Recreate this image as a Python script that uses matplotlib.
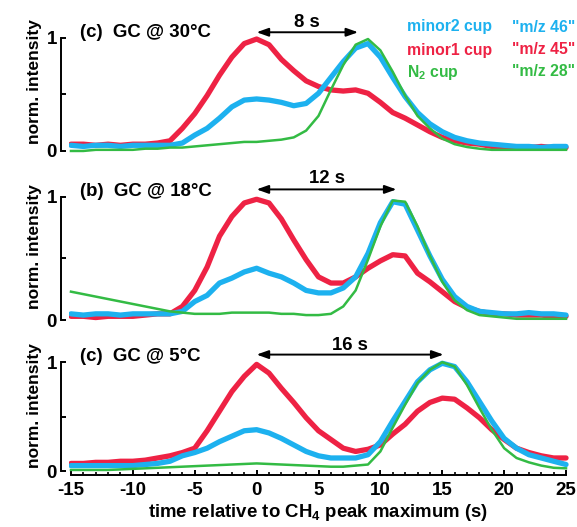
import numpy as np
import matplotlib
matplotlib.use("Agg")
import matplotlib.pyplot as plt
from matplotlib.ticker import MultipleLocator

plt.rcParams["font.family"] = ["Liberation Sans", "DejaVu Sans"]
plt.rcParams["font.weight"] = "bold"
plt.rcParams["axes.unicode_minus"] = False
plt.rcParams["mathtext.fontset"] = "custom"
plt.rcParams["mathtext.rm"] = "Liberation Sans:bold"
plt.rcParams["mathtext.bf"] = "Liberation Sans:bold"
plt.rcParams["mathtext.default"] = "bf"

# time axis (s), 1 s steps from -15 to 25
time = np.arange(-15, 26)

# ---- GC @ 30 C ----
red_30 = [0.06, 0.06, 0.05, 0.06, 0.05, 0.06, 0.06, 0.07, 0.09, 0.20, 0.33, 0.49, 0.67, 0.83,
          0.95, 0.99, 0.94, 0.81, 0.71, 0.62, 0.57, 0.54, 0.53, 0.54, 0.51, 0.43, 0.34, 0.29,
          0.23, 0.17, 0.12, 0.09, 0.07, 0.06, 0.04, 0.03, 0.03, 0.03, 0.04, 0.03, 0.03]
blue_30 = [0.05, 0.04, 0.05, 0.05, 0.04, 0.05, 0.05, 0.05, 0.05, 0.07, 0.14, 0.20, 0.29, 0.39,
           0.45, 0.46, 0.45, 0.43, 0.40, 0.42, 0.51, 0.65, 0.79, 0.91, 0.95, 0.83, 0.65, 0.48,
           0.34, 0.24, 0.17, 0.12, 0.09, 0.07, 0.06, 0.05, 0.04, 0.04, 0.03, 0.04, 0.04]
green_30 = [0.00, 0.00, 0.01, 0.01, 0.01, 0.01, 0.02, 0.02, 0.03, 0.03, 0.04, 0.05, 0.06, 0.07,
            0.08, 0.08, 0.09, 0.10, 0.12, 0.18, 0.31, 0.54, 0.76, 0.94, 0.99, 0.89, 0.70, 0.49,
            0.31, 0.20, 0.11, 0.06, 0.035, 0.02, 0.01, 0.01, 0.01, 0.01, 0.01, 0.01, 0.01]

# ---- GC @ 18 C ----
red_18 = [0.03, 0.03, 0.02, 0.03, 0.03, 0.03, 0.04, 0.05, 0.05, 0.11, 0.24, 0.43, 0.68, 0.84,
          0.95, 0.98, 0.95, 0.82, 0.65, 0.49, 0.35, 0.30, 0.30, 0.35, 0.42, 0.48, 0.53, 0.52,
          0.38, 0.31, 0.23, 0.15, 0.10, 0.07, 0.05, 0.05, 0.04, 0.04, 0.04, 0.03, 0.03]
blue_18 = [0.05, 0.04, 0.05, 0.05, 0.04, 0.05, 0.05, 0.05, 0.05, 0.07, 0.15, 0.20, 0.30, 0.34,
           0.39, 0.42, 0.38, 0.35, 0.30, 0.24, 0.22, 0.22, 0.26, 0.35, 0.54, 0.79, 0.96, 0.94,
           0.73, 0.52, 0.33, 0.19, 0.11, 0.07, 0.06, 0.05, 0.05, 0.06, 0.05, 0.05, 0.04]
green_18 = [0.23, 0.21, 0.19, 0.17, 0.15, 0.13, 0.11, 0.09, 0.07, 0.06, 0.05, 0.05, 0.05, 0.06,
            0.06, 0.06, 0.06, 0.05, 0.05, 0.04, 0.04, 0.05, 0.11, 0.24, 0.49, 0.76, 0.97, 0.96,
            0.76, 0.52, 0.31, 0.16, 0.08, 0.04, 0.03, 0.02, 0.01, 0.01, 0.01, 0.01, 0.01]

# ---- GC @ 5 C ----
red_5 = [0.07, 0.07, 0.08, 0.08, 0.09, 0.09, 0.10, 0.12, 0.14, 0.17, 0.21, 0.37, 0.55, 0.73,
         0.87, 0.98, 0.90, 0.76, 0.63, 0.49, 0.37, 0.29, 0.21, 0.18, 0.20, 0.24, 0.34, 0.43,
         0.55, 0.63, 0.67, 0.66, 0.58, 0.49, 0.38, 0.29, 0.21, 0.17, 0.14, 0.12, 0.12]
blue_5 = [0.05, 0.05, 0.05, 0.05, 0.05, 0.05, 0.06, 0.07, 0.09, 0.14, 0.17, 0.21, 0.27, 0.32,
          0.37, 0.38, 0.35, 0.30, 0.24, 0.18, 0.14, 0.12, 0.12, 0.12, 0.15, 0.27, 0.46, 0.64,
          0.82, 0.93, 0.99, 0.96, 0.82, 0.64, 0.46, 0.30, 0.21, 0.15, 0.12, 0.09, 0.06]
green_5 = [0.01, 0.01, 0.01, 0.01, 0.015, 0.02, 0.025, 0.03, 0.035, 0.04, 0.045, 0.05, 0.055, 0.06,
           0.065, 0.07, 0.065, 0.06, 0.055, 0.05, 0.045, 0.04, 0.04, 0.05, 0.06, 0.18, 0.40, 0.61,
           0.81, 0.93, 1.00, 0.96, 0.79, 0.58, 0.38, 0.21, 0.12, 0.08, 0.05, 0.03, 0.025]

panels = [
    ("(c)  GC @ 30°C", "8 s", 8.2, red_30, blue_30, green_30),
    ("(b)  GC @ 18°C", "12 s", 11.3, red_18, blue_18, green_18),
    ("(c)  GC @ 5°C", "16 s", 15.1, red_5, blue_5, green_5),
]

c_blue = "#1DB1EF"
c_red = "#EE2244"
c_green = "#33BB44"

W, H = 577, 527
fig = plt.figure(figsize=(W / 100, H / 100), dpi=100)

# axes boxes in pixels: (top, bottom, ymin, ymax)
boxes = [(4, 160, -0.08, 1.3), (166, 327.4, -0.06, 1.25), (335, 475.4, -0.04, 1.25)]
# y positions for annotations: (label y, arrow y, arrow text y)
annot_y = [(1.05, 1.05, 1.14), (1.04, 1.06, 1.145), (1.055, 1.07, 1.155)]
left_px, right_px = 68.5, 568.5

for i, (label, dt_txt, dt, red, blue, green) in enumerate(panels):
    top, bot, ymin, ymax = boxes[i]
    ax = fig.add_axes([left_px / W, 1 - bot / H, (right_px - left_px) / W, (bot - top) / H])
    ax.patch.set_alpha(0)
    ax.plot(time, red, color=c_red, lw=3.8, solid_capstyle="round", solid_joinstyle="round")
    ax.plot(time, blue, color=c_blue, lw=3.8, solid_capstyle="round", solid_joinstyle="round")
    ax.plot(time, green, color=c_green, lw=1.8)
    ax.set_xlim(-15.2, 25.2)
    ax.set_ylim(ymin, ymax)

    for s in ["top", "right"]:
        ax.spines[s].set_visible(False)
    ax.spines["left"].set_position(("outward", 5.4))
    ax.spines["left"].set_bounds(0, 1)
    ax.spines["left"].set_linewidth(1.4)
    ax.set_yticks([0, 0.5, 1])
    ax.set_yticklabels(["0", "", "1"], fontsize=13.5, fontweight="bold")
    ax.tick_params(axis="y", direction="in", length=3.6, width=1.4, pad=3)
    ax.set_ylabel("norm. intensity", fontsize=12.5, fontweight="bold", labelpad=3)

    if i < 2:
        ax.spines["bottom"].set_visible(False)
        ax.set_xticks([])
    else:
        ax.spines["bottom"].set_bounds(-15, 25)
        ax.spines["bottom"].set_linewidth(1.4)
        ax.xaxis.set_major_locator(MultipleLocator(5))
        ax.xaxis.set_minor_locator(MultipleLocator(1))
        ax.tick_params(axis="x", which="major", direction="in", length=3.5, width=1.4,
                       labelsize=13.5, pad=5)
        ax.tick_params(axis="x", which="minor", direction="in", length=2, width=1.2)
        ax.set_xlabel("time relative to CH$_4$ peak maximum (s)", fontsize=13.4,
                      fontweight="bold", labelpad=2)

    ly, ay, ty = annot_y[i]
    ax.text(-14.3, ly, label, fontsize=13.4, fontweight="bold", ha="left", va="center")
    ax.annotate("", xy=(dt, ay), xytext=(0, ay), annotation_clip=False,
                arrowprops=dict(arrowstyle="<|-|>,head_length=0.7,head_width=0.25",
                                color="black", lw=1.4, mutation_scale=10,
                                shrinkA=0, shrinkB=0))
    ax.text(dt / 2, ty, dt_txt, fontsize=13.4, fontweight="bold", ha="center", va="center")

# legend text in the top right corner
rows = [("minor2 cup", '"m/z 46"', c_blue, 27),
        ("minor1 cup", '"m/z 45"', c_red, 50),
        ("N$_2$ cup", '"m/z 28"', c_green, 72)]
for name, mz, col, y in rows:
    fig.text(407 / W, 1 - y / H, name, color=col, fontsize=11.3, fontweight="bold",
             ha="left", va="center")
    fig.text(575 / W, 1 - y / H, mz, color=col, fontsize=11.3, fontweight="bold",
             ha="right", va="center")

fig.savefig("out.png", dpi=100)
